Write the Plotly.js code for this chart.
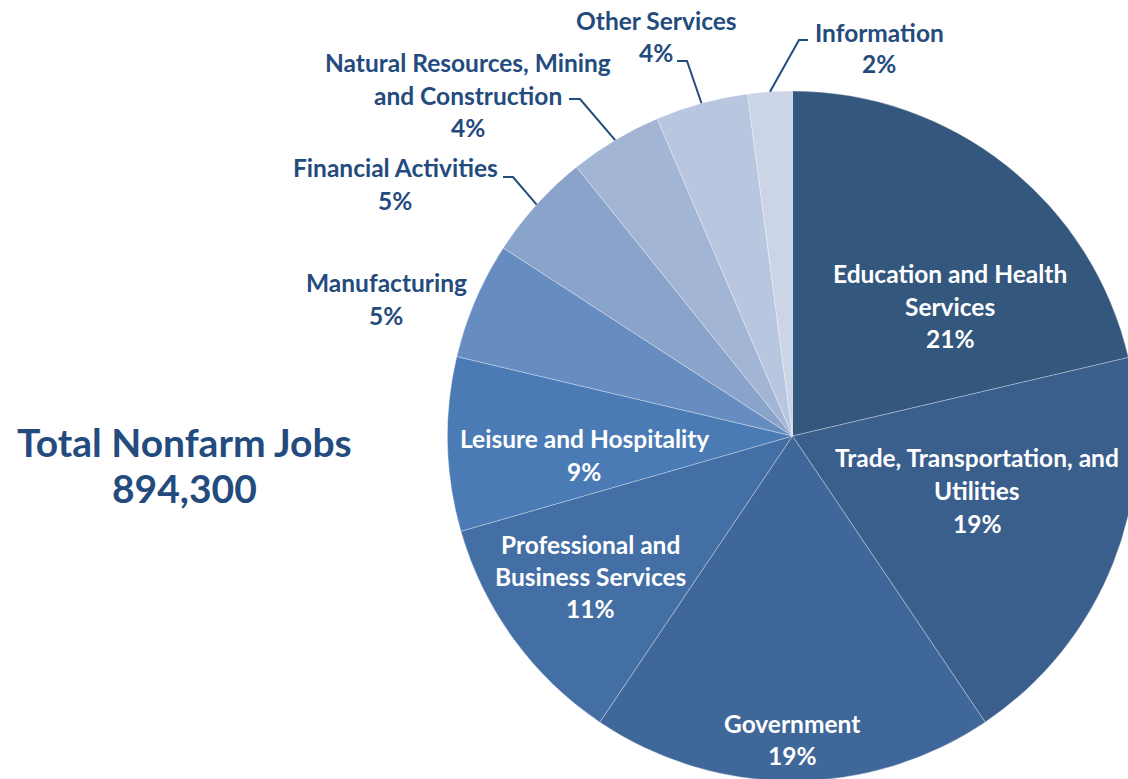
<!DOCTYPE html>
<html>
<head>
<meta charset="utf-8">
<script src="https://cdn.plot.ly/plotly-3.0.1.min.js"></script>
<style>
  html, body { margin: 0; padding: 0; overflow: hidden; background: #ffffff; }
  #chart { width: 1200px; height: 820px; }
</style>
</head>
<body>
<div id="chart"></div>
<script>
// ---- data ----
const categories = [
  "Education and Health Services",
  "Trade, Transportation, and Utilities",
  "Government",
  "Professional and Business Services",
  "Leisure and Hospitality",
  "Manufacturing",
  "Financial Activities",
  "Natural Resources, Mining and Construction",
  "Other Services",
  "Information"
];
const jobs = [190900, 171900, 168700, 99400, 72900, 49000, 45200, 38900, 38800, 18600];
const percentLabels = ["21%", "19%", "19%", "11%", "9%", "5%", "5%", "4%", "4%", "2%"];
const totalJobs = "894,300";
const sliceColors = ["#34577e", "#3b5f8d", "#3f6799", "#446fa5", "#4a7bb5",
                     "#668cc0", "#8aa3cb", "#a3b5d5", "#b9c6df", "#cbd5e7"];

// ---- layout geometry ----
const W = 1200, H = 820;
const CX = 792.5, CY = 436, R = 345;
const TXT = "#244b7d";
const FONT = "Lato, 'Open Sans', sans-serif";
const FS = 24.5;

const px = x => x / W;
const py = y => 1 - y / H;

const annotations = [];
function label(lines, cx, cy, spacing, color, size) {
  const n = lines.length;
  lines.forEach((t, i) => {
    const y = cy + (i - (n - 1) / 2) * spacing;
    annotations.push({
      xref: "paper", yref: "paper", x: px(cx), y: py(y),
      xanchor: "center", yanchor: "middle", showarrow: false,
      text: "<b>" + t + "</b>",
      font: { family: FONT, size: size, color: color }
    });
  });
}

// inside labels (white)
label(["Education and Health", "Services", percentLabels[0]], 950, 306, 33, "#ffffff", FS);
label(["Trade, Transportation, and", "Utilities", percentLabels[1]], 977, 490, 33, "#ffffff", FS);
label(["Government", percentLabels[2]], 792, 739, 32, "#ffffff", FS);
label(["Professional and", "Business Services", percentLabels[3]], 590, 576, 32, "#ffffff", FS);
label(["Leisure and Hospitality", percentLabels[4]], 584, 455, 33, "#ffffff", FS);
// outside labels (dark blue)
label(["Manufacturing", percentLabels[5]], 386, 299, 33, TXT, FS);
label(["Financial Activities", percentLabels[6]], 395, 184, 33, TXT, FS);
label(["Natural Resources, Mining", "and Construction", percentLabels[7]], 468, 95, 32.5, TXT, FS);
label(["Other Services", percentLabels[8]], 656, 36, 32, TXT, FS);
label(["Information", percentLabels[9]], 879, 48, 32, TXT, FS);
// total
label(["Total Nonfarm Jobs", totalJobs], 184, 465, 46, TXT, 39);

// leader lines: end on slice edge at each slice's mid-angle (computed from the data)
const total = jobs.reduce((a, b) => a + b, 0);
const midFrac = [];
let acc = 0;
jobs.forEach(v => { midFrac.push((acc + v / 2) / total); acc += v; });
function edgePoint(i) {
  const th = midFrac[i] * 2 * Math.PI;
  return [CX + R * Math.sin(th), CY - R * Math.cos(th)];
}
const leaders = [
  { i: 6, start: [503, 177], elbow: [513, 177] },
  { i: 7, start: [569, 99], elbow: [580, 99] },
  { i: 8, start: [677, 61], elbow: [687, 61] },
  { i: 9, start: [808, 40], elbow: [799, 40] }
];
const shapes = leaders.map(l => {
  const e = edgePoint(l.i);
  return {
    type: "path", xref: "paper", yref: "paper",
    path: `M ${px(l.start[0])} ${py(l.start[1])} L ${px(l.elbow[0])} ${py(l.elbow[1])} L ${px(e[0])} ${py(e[1])}`,
    line: { color: TXT, width: 2 }
  };
});

const trace = {
  type: "pie",
  labels: categories,
  values: jobs,
  sort: false,
  direction: "clockwise",
  rotation: 0,
  textinfo: "none",
  hoverinfo: "label+value+percent",
  marker: { colors: sliceColors, line: { color: "rgba(255,255,255,0.3)", width: 1 } },
  domain: { x: [(CX - R) / W, (CX + R) / W], y: [1 - (CY + R) / H, 1 - (CY - R) / H] },
  showlegend: false
};

const layout = {
  width: W, height: H,
  margin: { l: 0, r: 0, t: 0, b: 0, pad: 0 },
  paper_bgcolor: "#ffffff",
  showlegend: false,
  annotations: annotations,
  shapes: shapes
};

Plotly.newPlot("chart", [trace], layout, { displayModeBar: false, staticPlot: true });
</script>
</body>
</html>
